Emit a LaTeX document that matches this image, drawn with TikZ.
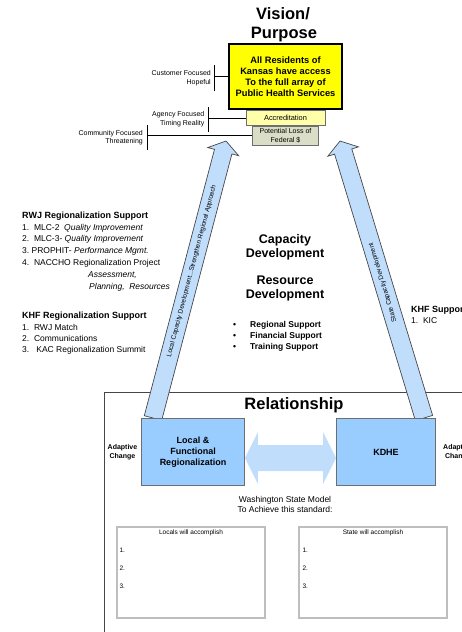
\documentclass[tikz,border=0pt]{standalone}
\usepackage{fontspec}
\setmainfont{Liberation Sans}
\usetikzlibrary{positioning,calc}

\definecolor{visionyellow}{RGB}{255,255,0}
\definecolor{accyellow}{RGB}{255,255,170}
\definecolor{potgreen}{RGB}{218,222,198}
\definecolor{shaftblue}{RGB}{192,222,252}
\definecolor{boxblue}{RGB}{153,204,255}
\definecolor{boxgray}{RGB}{110,110,110}
\definecolor{listgray}{RGB}{190,190,190}
\definecolor{framegray}{RGB}{70,70,70}

\newcommand\fsz[2]{\fontsize{#1}{#2}\selectfont}

\tikzset{
  titletext/.style={font=\fsz{16.5}{20}\bfseries, inner sep=0pt},
  visionbox/.style={draw, line width=2pt, fill=visionyellow, align=center,
    font=\fsz{9.3}{11}\bfseries, inner sep=0pt},
  accbox/.style={draw=boxgray, line width=0.8pt, fill=accyellow, font=\fsz{7.4}{9}, inner sep=0pt},
  potbox/.style={draw=boxgray, line width=0.8pt, fill=potgreen, align=center, font=\fsz{7}{8.5}, inner sep=0pt},
  sidelabel/.style={align=right, font=\fsz{7}{8.5}, inner sep=0pt},
  bracket/.style={line width=0.8pt},
  bigarrow/.style={draw=framegray, fill=shaftblue, line width=0.7pt, line join=miter},
  arrowtext/.style={font=\fsz{6.5}{8}, inner sep=0pt},
  headtext/.style={font=\fsz{9}{11}\bfseries, inner sep=0pt},
  listtext/.style={align=left, font=\fsz{8.5}{11.8}, inner sep=0pt},
  bigbold/.style={align=center, font=\fsz{12.5}{14}\bfseries, inner sep=0pt},
  bullets/.style={align=left, font=\fsz{8.5}{11}\bfseries, inner sep=0pt},
  bluebox/.style={draw=boxgray, line width=0.8pt, fill=boxblue, align=center,
    font=\fsz{9}{11}\bfseries, inner sep=0pt},
  adaptlabel/.style={align=center, font=\fsz{7}{9}\bfseries, inner sep=0pt},
  listbox/.style={draw=listgray, line width=1.2pt, minimum width=148pt, minimum height=91pt, inner sep=0pt},
  smalltext/.style={font=\fsz{6.5}{8}, inner sep=0pt},
}

\begin{document}
\begin{tikzpicture}[x=1pt,y=-1pt]
  \useasboundingbox (0,0) rectangle (462,632);
  \clip (0,0) rectangle (462,632);

  % vision / purpose stack
  \node[titletext, anchor=base] (vtitle) at (283,19) {Vision/};
  \node[titletext, anchor=base] (ptitle) at (284,38.5) {Purpose};
  \node[visionbox, minimum width=113pt, minimum height=65pt] (vision) at (285.5,76.5)
    {All Residents of\\Kansas have access\\To the full array of\\Public Health Services};
  \node[accbox, minimum width=79pt, minimum height=15pt, below=0pt of vision] (acc) {Accreditation};
  \node[potbox, minimum width=66pt, minimum height=19pt, below=0pt of acc] (pot) {Potential Loss of\\Federal \$};

  \node[sidelabel, anchor=east] (cust) at (211,78.3) {Customer Focused\\Hopeful};
  \node[sidelabel, anchor=east] (agency) at (204.5,119.2) {Agency Focused\\Timing Reality};
  \node[sidelabel, anchor=east] (comm) at (143,137.5) {Community Focused\\Threatening};

  \coordinate (custbar) at (214,78);
  \coordinate (agbar) at (208,119.5);
  \coordinate (combar) at (147,137.5);
  \draw[bracket] (custbar) ++(0,-13) -- ++(0,26);
  \draw[bracket] (vision.west -| custbar) -- (vision.west);
  \draw[bracket] (agbar) ++(0,-12.5) -- ++(0,25);
  \draw[bracket] (acc.west -| agbar) -- (acc.west);
  \draw[bracket] (combar) ++(0,-12.5) -- ++(0,25);
  \draw[bracket] (pot.west -| combar) -- (pot.west);

  % support lists
  \node[headtext, anchor=base west] (rwjhead) at (22,218) {RWJ Regionalization Support};
  \node[listtext, anchor=north west] (rwjlist) at (22,223.8)
    {1.~~MLC-2~~\textit{Quality Improvement}\\
     2.~~MLC-3-~\textit{Quality Improvement}\\
     3.~PROPHIT-~\textit{Performance Mgmt.}\\
     4.~~NACCHO Regionalization Project\\
     \hspace*{66pt}\textit{Assessment,}\\
     \hspace*{67pt}\textit{Planning,~~Resources}};
  \node[headtext, anchor=base west] (khfhead) at (22,318) {KHF Regionalization Support};
  \node[listtext, anchor=north west, font=\fsz{8.5}{11}] (khflist) at (22,323.8)
    {1.~~RWJ Match\\2.~~Communications\\3.~~~KAC Regionalization Summit};
  \node[headtext, anchor=base west] (khfright) at (411,312) {KHF Support};
  \node[listtext, anchor=base west] (kic) at (411,323) {1.~~KIC};

  \node[bigbold] (capdev) at (285,247) {Capacity\\Development};
  \node[bigbold] (resdev) at (285,288) {Resource\\Development};
  \node[bullets, anchor=west] (supports) at (233,336)
    {\makebox[17pt][l]{\textbullet}Regional Support\\
     \makebox[17pt][l]{\textbullet}Financial Support\\
     \makebox[17pt][l]{\textbullet}Training Support};

  % relationship frame
  \draw[framegray, line width=0.9pt] (104,632) -- (104,392) -- (462,392);
  \node[titletext, anchor=base] (rel) at (294,409) {Relationship};

  % capacity arrows
  \coordinate (lfoot) at (153,418);
  \coordinate (ltip) at (226,141);
  \coordinate (lhead) at ($(ltip)!11pt!(lfoot)$);
  \draw[bigarrow] ($(lfoot)!9pt!-90:(ltip)$) -- ($(lhead)!9pt!90:(lfoot)$)
    -- ($(lhead)!16pt!90:(lfoot)$) -- (ltip) -- ($(lhead)!16pt!-90:(lfoot)$)
    -- ($(lhead)!9pt!-90:(lfoot)$) -- ($(lfoot)!9pt!90:(ltip)$) -- cycle;
  \path (lfoot) -- (ltip) node[pos=.53, sloped, arrowtext]
    {Local Capacity Development...Strengthen Regional Approach};

  \coordinate (rfoot) at (424,418);
  \coordinate (rtip) at (340,141);
  \coordinate (rhead) at ($(rtip)!11pt!(rfoot)$);
  \draw[bigarrow] ($(rfoot)!9pt!-90:(rtip)$) -- ($(rhead)!9pt!90:(rfoot)$)
    -- ($(rhead)!16pt!90:(rfoot)$) -- (rtip) -- ($(rhead)!16pt!-90:(rfoot)$)
    -- ($(rhead)!9pt!-90:(rfoot)$) -- ($(rfoot)!9pt!90:(rtip)$) -- cycle;
  \path (rfoot) -- (rtip) node[pos=.49, sloped, allow upside down, arrowtext]
    {State Capacity Development};

  % partners
  \node[bluebox, minimum width=103pt, minimum height=67pt] (lbox) at (193,452)
    {Local \&\\Functional\\Regionalization};
  \node[bluebox, minimum width=99pt, minimum height=67pt] (kdhe) at (386,452) {KDHE};
  \fill[shaftblue] ($(lbox.east)+(0,6)$) -- ++(13,26) -- ++(0,-13)
    -- ($(kdhe.west)+(-13,19)$) -- ++(0,13) -- ($(kdhe.west)+(0,6)$)
    -- ++(-13,-26) -- ++(0,13) -- ($(lbox.east)+(13,-7)$) -- ++(0,-13) -- cycle;

  \node[adaptlabel] (ladapt) at (122.5,452) {Adaptive\\Change};
  \node[adaptlabel, anchor=west] (radapt) at (443,452) {Adaptive\\Change};

  % washington state model
  \node[align=center, font=\fsz{8.5}{10}, inner sep=0pt] (wsm) at (285,504.5)
    {Washington State Model\\To Achieve this standard:};
  \node[listbox] (locals) at (191,572.5) {};
  \node[listbox] (state) at (373,572.5) {};
  \node[smalltext, below=3.5pt of locals.north] (ltitle) {Locals will accomplish};
  \node[smalltext, below=3.5pt of state.north] (stitle) {State will accomplish};
  \foreach \n in {1,2,3} {
    \node[smalltext, anchor=base west] (litem\n) at ($(locals.north west)+(3,8+18*\n)$) {\n.};
    \node[smalltext, anchor=base west] (sitem\n) at ($(state.north west)+(4,8+18*\n)$) {\n.};
  }
\end{tikzpicture}
\end{document}
